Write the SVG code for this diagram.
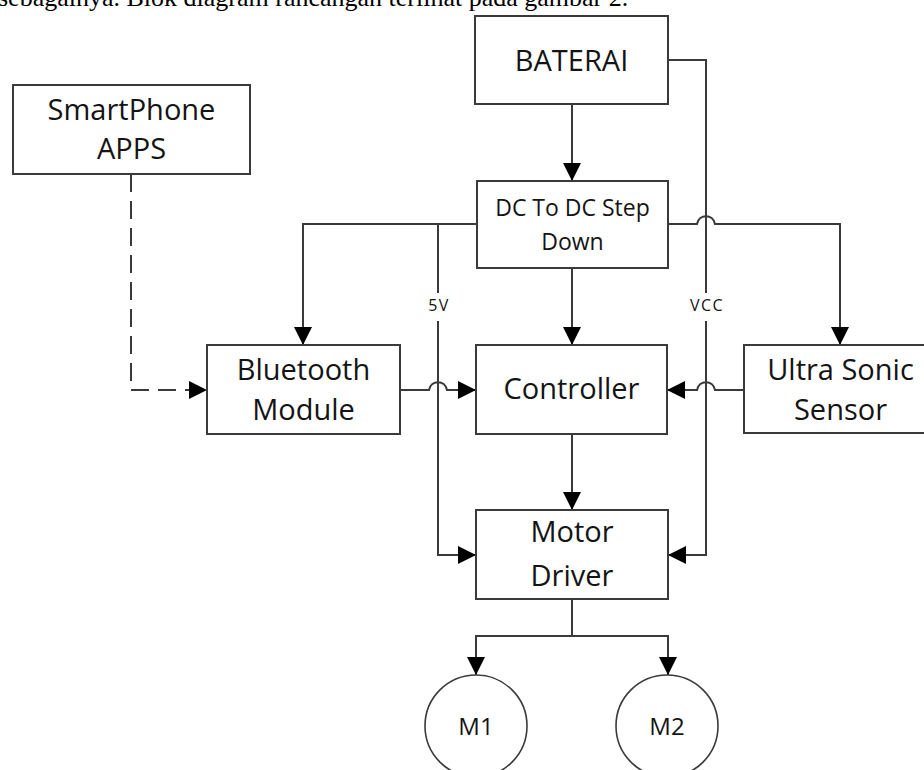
<svg xmlns="http://www.w3.org/2000/svg" width="924" height="770" viewBox="0 0 924 770">
<style>
.bg{fill:#ffffff}
.box{fill:#ffffff;stroke:#3a3a3a;stroke-width:2}
.mot{fill:#ffffff;stroke:#3a3a3a;stroke-width:1.6}
.lbl{font-family:"Open Sans","Liberation Sans",sans-serif;fill:#141414;text-anchor:middle;font-size:29px}
.sm{font-size:23px}
.mm{font-size:24px}
.tiny{font-size:16px;letter-spacing:1.5px}
.conn{fill:none;stroke:#3a3a3a;stroke-width:2}
.dash{stroke-dasharray:18 9}
.body{font-family:"Liberation Serif","Times New Roman",serif;font-size:26px;fill:#000}
</style>
<defs>
<marker id="arr" markerUnits="userSpaceOnUse" markerWidth="18" markerHeight="18" refX="18" refY="9" orient="auto">
<path d="M0,0 L18,9 L0,18 z" fill="#000"/>
</marker>
</defs>
<rect class="bg" x="0" y="0" width="924" height="770"/>
<text class="body" x="-2" y="6">sebagainya. Blok diagram rancangan terlihat pada gambar 2.</text>

<g id="connectors">
<path class="conn" d="M572,104 V181" marker-end="url(#arr)"/>
<path class="conn" d="M668,60 H706 V293"/>
<path class="conn" d="M706,321 V555 H668" marker-end="url(#arr)"/>
<path class="conn" d="M477,224 H303 V345" marker-end="url(#arr)"/>
<path class="conn" d="M438,224 V293"/>
<path class="conn" d="M438,321 V555 H476" marker-end="url(#arr)"/>
<path class="conn" d="M668,224 H697 C699,213.5 713,213.5 715,224 H840 V345" marker-end="url(#arr)"/>
<path class="conn" d="M572,268 V345" marker-end="url(#arr)"/>
<path class="conn" d="M400,390 H429 C431,379.5 445,379.5 447,390 H476" marker-end="url(#arr)"/>
<path class="conn" d="M744,390 H715 C713,379.5 699,379.5 697,390 H667" marker-end="url(#arr)"/>
<path class="conn" d="M572,434 V510" marker-end="url(#arr)"/>
<path class="conn" d="M572,599 V636"/>
<path class="conn" d="M572,636 H476 V675" marker-end="url(#arr)"/>
<path class="conn" d="M572,636 H668 V675" marker-end="url(#arr)"/>
<path class="conn dash" d="M131,174 V390 H207" marker-end="url(#arr)"/>
<text class="lbl tiny" x="439" y="311">5V</text>
<text class="lbl tiny" x="707" y="311">VCC</text>
</g>

<g id="baterai">
<rect class="box" x="475" y="16" width="193" height="88"/>
<text class="lbl" x="571.5" y="71">BATERAI</text>
</g>
<g id="smartphone">
<rect class="box" x="13" y="85" width="237" height="89"/>
<text class="lbl" x="131.5" y="120">SmartPhone</text>
<text class="lbl" x="131.5" y="159">APPS</text>
</g>
<g id="dcdc">
<rect class="box" x="477" y="181" width="191" height="87"/>
<text class="lbl sm" x="572.5" y="216">DC To DC Step</text>
<text class="lbl sm" x="572.5" y="250">Down</text>
</g>
<g id="bluetooth">
<rect class="box" x="207" y="345" width="193" height="89"/>
<text class="lbl" x="303.5" y="380">Bluetooth</text>
<text class="lbl" x="303.5" y="420">Module</text>
</g>
<g id="controller">
<rect class="box" x="476" y="345" width="191" height="89"/>
<text class="lbl" x="571.5" y="399">Controller</text>
</g>
<g id="ultrasonic">
<rect class="box" x="744" y="345" width="193" height="88"/>
<text class="lbl" x="840.5" y="380">Ultra Sonic</text>
<text class="lbl" x="840.5" y="420">Sensor</text>
</g>
<g id="motordriver">
<rect class="box" x="476" y="510" width="192" height="89"/>
<text class="lbl" x="572" y="542">Motor</text>
<text class="lbl" x="572" y="586">Driver</text>
</g>
<g id="m1">
<circle class="mot" cx="476" cy="726" r="51"/>
<text class="lbl mm" x="476" y="735">M1</text>
</g>
<g id="m2">
<circle class="mot" cx="667" cy="726" r="51"/>
<text class="lbl mm" x="667" y="735">M2</text>
</g>
</svg>
